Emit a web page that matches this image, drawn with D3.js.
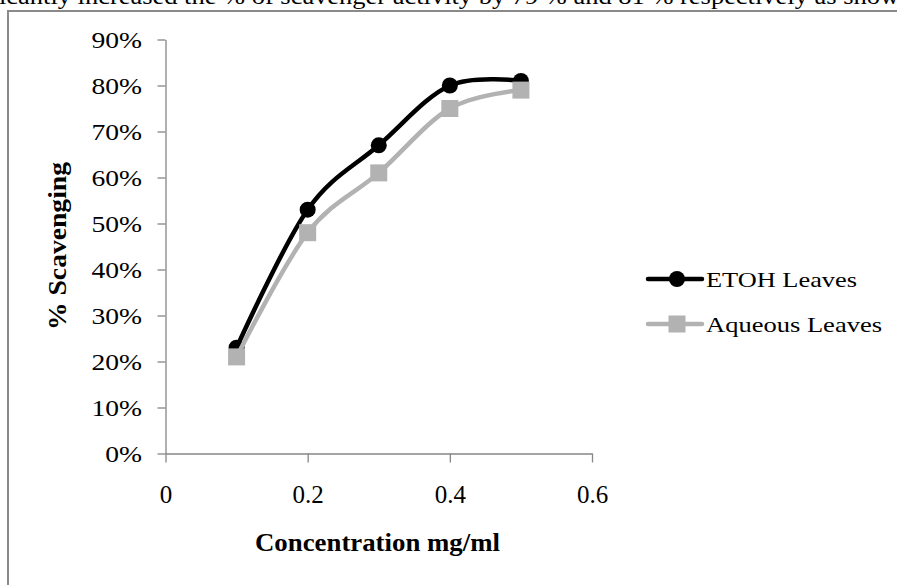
<!DOCTYPE html>
<html>
<head>
<meta charset="utf-8">
<script src="https://cdn.jsdelivr.net/npm/d3@7"></script>
<style>
  html, body { margin: 0; padding: 0; background: #fff; }
  svg { display: block; }
  text { font-family: "Liberation Serif", "Times New Roman", serif; }
</style>
</head>
<body>
<svg id="chart" width="897" height="585"></svg>
<script>
// ---- data ----
const concentrations = [0.1, 0.2, 0.3, 0.4, 0.5];
const etohValues = [0.23, 0.53, 0.67, 0.80, 0.81];
const aqueousValues = [0.21, 0.48, 0.61, 0.75, 0.79];
const seriesNames = ["ETOH Leaves", "Aqueous Leaves"];
const xTickValues = [0, 0.2, 0.4, 0.6];
const yTickValues = [0, 0.1, 0.2, 0.3, 0.4, 0.5, 0.6, 0.7, 0.8, 0.9];
const xTitle = "Concentration mg/ml";
const yTitle = "% Scavenging";
const headerText = "icantly increased the % of scavenger activity by 79 % and 81 % respectively as show";

const svg = d3.select("#chart");
const axisColor = "#868686";
const grayColor = "#b2b2b2";

// header line cut off at top
svg.append("text")
  .attr("x", -1).attr("y", 4)
  .attr("font-size", 24)
  .attr("textLength", 900).attr("lengthAdjust", "spacingAndGlyphs")
  .attr("fill", "#000")
  .text(headerText);

// outer frame (left + top visible)
svg.append("path")
  .attr("d", "M8,590 L8,11 L900,11")
  .attr("fill", "none").attr("stroke", "#8a8a8a").attr("stroke-width", 2);

const x = d3.scaleLinear().domain([0, 0.6]).range([165.5, 592]);
const y = d3.scaleLinear().domain([0, 0.9]).range([453.5, 39.5]);

// y axis
const yAxis = svg.append("g")
  .attr("transform", `translate(${x(0)},0)`)
  .call(d3.axisLeft(y).tickValues(yTickValues).tickSize(8).tickSizeOuter(0).tickFormat(d3.format(".0%")));
yAxis.select(".domain").attr("stroke", axisColor).attr("stroke-width", 1.3);
yAxis.selectAll(".tick line").attr("stroke", axisColor).attr("stroke-width", 1.3);
yAxis.selectAll(".tick text")
  .attr("x", 0).attr("dy", "0.34em")
  .attr("transform", "translate(-23.5,0) scale(1.15,1)")
  .attr("font-size", 24).attr("font-family", "Liberation Serif").attr("fill", "#000");

// x axis
const xAxis = svg.append("g")
  .attr("transform", `translate(0,${y(0)})`)
  .call(d3.axisBottom(x).tickValues(xTickValues).tickSize(9).tickSizeOuter(0).tickFormat(d => d === 0 ? "0" : d3.format(".1f")(d)));
xAxis.select(".domain").attr("stroke", axisColor).attr("stroke-width", 1.3);
xAxis.selectAll(".tick line").attr("stroke", axisColor).attr("stroke-width", 1.3);
xAxis.selectAll(".tick text")
  .attr("y", 49.5).attr("dy", 0)
  .attr("font-size", 25).attr("font-family", "Liberation Serif").attr("fill", "#000");

// axis titles
svg.append("text")
  .attr("x", 377.5).attr("y", 551)
  .attr("text-anchor", "middle")
  .attr("font-size", 25).attr("font-weight", "bold")
  .attr("textLength", 245).attr("lengthAdjust", "spacingAndGlyphs")
  .text(xTitle);

svg.append("text")
  .attr("transform", "translate(66,246) rotate(-90)")
  .attr("text-anchor", "middle")
  .attr("font-size", 25).attr("font-weight", "bold")
  .attr("textLength", 168).attr("lengthAdjust", "spacingAndGlyphs")
  .text(yTitle);

// lines
const line = d3.line()
  .x((d, i) => x(concentrations[i]))
  .y(d => y(d))
  .curve(d3.curveCardinal.tension(0));

// ETOH series
svg.append("path")
  .datum(etohValues)
  .attr("d", line)
  .attr("fill", "none").attr("stroke", "#000").attr("stroke-width", 4.5);
svg.selectAll(".etoh-pt")
  .data(etohValues).enter().append("circle")
  .attr("class", "etoh-pt")
  .attr("cx", (d, i) => x(concentrations[i]))
  .attr("cy", d => y(d))
  .attr("r", 8).attr("fill", "#000");

// Aqueous series
svg.append("path")
  .datum(aqueousValues)
  .attr("d", line)
  .attr("fill", "none").attr("stroke", grayColor).attr("stroke-width", 4.5);
const sq = 17;
svg.selectAll(".aq-pt")
  .data(aqueousValues).enter().append("rect")
  .attr("class", "aq-pt")
  .attr("x", (d, i) => x(concentrations[i]) - sq / 2)
  .attr("y", d => y(d) - sq / 2)
  .attr("width", sq).attr("height", sq)
  .attr("fill", grayColor);

// legend
const legend = svg.append("g");
const legendRows = [
  { name: seriesNames[0], color: "#000", shape: "circle", cy: 279, width: 151 },
  { name: seriesNames[1], color: grayColor, shape: "square", cy: 324, width: 176 }
];
legendRows.forEach(r => {
  legend.append("line")
    .attr("x1", 648).attr("x2", 702).attr("y1", r.cy).attr("y2", r.cy)
    .attr("stroke", r.color).attr("stroke-width", 4.5).attr("stroke-linecap", "round");
  if (r.shape === "circle") {
    legend.append("circle").attr("cx", 677).attr("cy", r.cy).attr("r", 8).attr("fill", r.color);
  } else {
    legend.append("rect").attr("x", 677 - sq / 2).attr("y", r.cy - sq / 2)
      .attr("width", sq).attr("height", sq).attr("fill", r.color);
  }
  legend.append("text")
    .attr("x", 706).attr("y", r.cy + 7.5)
    .attr("font-size", 21)
    .attr("textLength", r.width).attr("lengthAdjust", "spacingAndGlyphs")
    .attr("fill", "#000")
    .text(r.name);
});
</script>
</body>
</html>
